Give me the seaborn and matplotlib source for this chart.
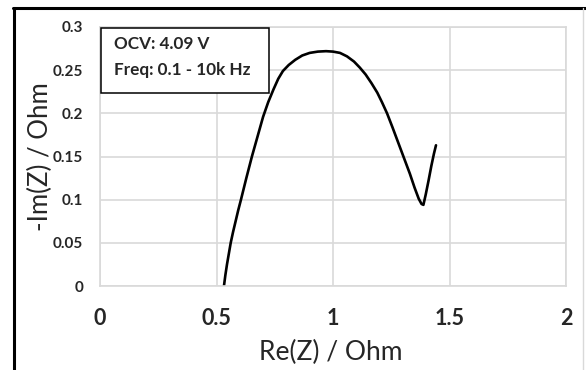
import matplotlib
matplotlib.use("Agg")
import matplotlib.pyplot as plt
import seaborn as sns
import pandas as pd
from matplotlib.lines import Line2D
from matplotlib.patches import Rectangle

re_z = [0.532, 0.538, 0.545, 0.553, 0.561, 0.571, 0.582, 0.593, 0.605, 0.628,
        0.652, 0.676, 0.700, 0.722, 0.745, 0.765, 0.785, 0.810, 0.838, 0.868,
        0.900, 0.935, 0.970, 1.000, 1.030, 1.060, 1.090, 1.115, 1.140, 1.165,
        1.190, 1.210, 1.232, 1.255, 1.280, 1.305, 1.330, 1.350, 1.368, 1.380,
        1.388, 1.398, 1.410, 1.422, 1.433, 1.442]
im_z = [0.000, 0.0125, 0.025, 0.0375, 0.050, 0.0625, 0.075, 0.0875, 0.100, 0.125,
        0.150, 0.173, 0.196, 0.213, 0.228, 0.240, 0.249, 0.256, 0.262, 0.267,
        0.270, 0.2715, 0.272, 0.2715, 0.270, 0.266, 0.260, 0.253, 0.245, 0.235,
        0.224, 0.213, 0.200, 0.184, 0.166, 0.148, 0.130, 0.114, 0.101, 0.095,
        0.094, 0.106, 0.122, 0.139, 0.153, 0.163]

x_ticks = [0, 0.5, 1, 1.5, 2]
x_tick_labels = ["0", "0.5", "1", "1.5", "2"]
y_ticks = [0, 0.05, 0.1, 0.15, 0.2, 0.25, 0.3]
y_tick_labels = ["0", "0.05", "0.1", "0.15", "0.2", "0.25", "0.3"]

df = pd.DataFrame({"re": re_z, "im": im_z})

sns.set_theme(style="white")
plt.rcParams["font.family"] = ["Lato", "DejaVu Sans"]

fig = plt.figure(figsize=(5.86, 3.70), dpi=100)
ax = fig.add_axes([100/586, 1-286/370, 466/586, 259/370])

sns.lineplot(data=df, x="re", y="im", sort=False, estimator=None,
             color="black", linewidth=1.9, ax=ax)

ax.set_xlim(0, 2)
ax.set_ylim(0, 0.3)
ax.set_xticks(x_ticks)
ax.set_xticklabels(x_tick_labels, fontsize=15.5, fontweight="bold")
ax.set_yticks(y_ticks)
ax.set_yticklabels(y_tick_labels, fontsize=11, fontweight="bold")
ax.tick_params(axis="x", length=0, pad=16)
ax.tick_params(axis="y", length=0, pad=12)
ax.grid(True, color="#d9d9d9", linewidth=1.2)
for s in ax.spines.values():
    s.set_color("#d9d9d9")
    s.set_linewidth(1.2)
ax.set_xlabel("Re(Z) / Ohm", fontsize=19)
ax.set_ylabel("-Im(Z) / Ohm", fontsize=18.5)
ax.xaxis.set_label_coords((331-100)/466, (286-352)/259)
ax.xaxis.label.set_va("center")
ax.yaxis.set_label_coords((40-100)/466, (286-157)/259)
ax.yaxis.label.set_va("center")

# annotation box
ax.add_patch(Rectangle((1/466, (286-92.7)/259), 168/466, 65/259, transform=ax.transAxes,
                       facecolor="white", edgecolor="black", linewidth=1.1, zorder=5,
                       clip_on=False))
ax.text(14/466, (286-44)/259, "OCV: 4.09 V", transform=ax.transAxes, fontsize=12.3,
        fontweight="bold", va="center", ha="left", zorder=6)
ax.text(14/466, (286-70)/259, "Freq: 0.1 - 10k Hz", transform=ax.transAxes, fontsize=12.3,
        fontweight="bold", va="center", ha="left", zorder=6)

# figure frame
fig.add_artist(Line2D([14/586, 14/586], [0, 1-8/370], transform=fig.transFigure, color="black", linewidth=2.2))
fig.add_artist(Line2D([13/586, 1], [1-8/370, 1-8/370], transform=fig.transFigure, color="black", linewidth=2.2))
fig.add_artist(Line2D([583/586, 583/586], [0, 1-8/370], transform=fig.transFigure, color="#d9d9d9", linewidth=1.0))

fig.savefig("out.png", dpi=100)
